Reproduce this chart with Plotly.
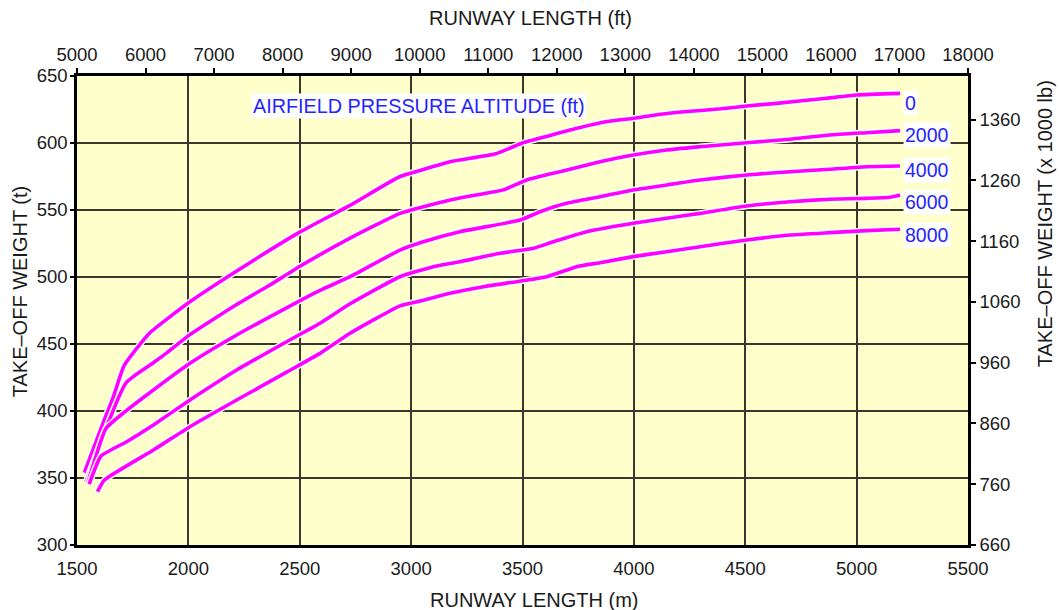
import plotly.graph_objects as go

# ---------------- data ----------------
# runway length (m) / take-off weight (t) for each airfield pressure altitude
alt_labels = ["0", "2000", "4000", "6000", "8000"]

m_0 = [1533, 1617, 1662, 1712, 1825, 2007, 2217, 2500, 2726, 2950, 3050, 3175, 3380,
       3500, 3610, 3745, 3880, 4000, 4120, 4240, 4390, 4506, 4641, 4866, 5000, 5195]
t_0 = [354, 391, 410, 434, 458, 481.5, 504.5, 533.5, 553.5, 575, 580, 586, 592,
       600, 605, 611, 616, 618.5, 621.5, 623.5, 625.5, 627.6, 629.6, 633.4, 635.8, 637]

m_2000 = [1540, 1720, 1843, 1900, 2007, 2217, 2366, 2501, 2726, 2950, 3055, 3219, 3414,
          3519, 3668, 3848, 3997, 4147, 4297, 4506, 4701, 4880, 5045, 5195]
t_2000 = [347, 421, 436, 443, 457, 479.5, 494, 508, 529, 547.5, 552.5, 559, 565,
          572.4, 578.6, 586, 591, 594.8, 597.2, 600.2, 602.8, 606, 607.7, 609.2]

m_4000 = [1548, 1630, 1723, 1843, 2007, 2217, 2441, 2591, 2726, 2950, 3055, 3219, 3489,
          3579, 3698, 3848, 3997, 4147, 4297, 4506, 4701, 4880, 5045, 5195]
t_4000 = [346, 387, 400.5, 415.7, 435.6, 456.7, 477, 490, 500.2, 520.1, 526.3, 533.8, 542.5,
          548.7, 555, 559.9, 564.9, 568.7, 572.4, 576.1, 578.6, 580.4, 582.3, 582.8]

m_6000 = [1555, 1608, 1723, 1843, 2007, 2217, 2441, 2591, 2726, 2950, 3100, 3219, 3399,
          3549, 3638, 3788, 3997, 4147, 4297, 4506, 4701, 4880, 5045, 5150, 5195]
t_6000 = [345.5, 366.4, 377.1, 389.6, 408.2, 430.6, 451.7, 465.5, 480, 500.2, 507.7, 511.4, 517.7,
          521.4, 526.3, 533.8, 540.1, 543.8, 547.5, 553, 556.2, 558, 558.7, 559.5, 561.2]

m_8000 = [1592, 1623, 1843, 2007, 2217, 2441, 2591, 2726, 2950, 3040, 3175, 3324, 3474,
          3609, 3743, 3848, 3997, 4147, 4297, 4506, 4701, 4880, 5045, 5195]
t_8000 = [339.8, 348.5, 370.9, 388.3, 408.2, 429, 443, 458, 478.5, 482, 487.8, 492.8, 496.5,
          500.2, 507.7, 510.7, 515.2, 518.9, 522.6, 527.6, 531.3, 533.1, 534.6, 535.6]

series_m = [m_0, m_2000, m_4000, m_6000, m_8000]
series_t = [t_0, t_2000, t_4000, t_6000, t_8000]

m_ticks = [1500, 2000, 2500, 3000, 3500, 4000, 4500, 5000, 5500]
t_ticks = [300, 350, 400, 450, 500, 550, 600, 650]
ft_ticks = [5000, 6000, 7000, 8000, 9000, 10000, 11000, 12000, 13000, 14000,
            15000, 16000, 17000, 18000]
lb_ticks = [660, 760, 860, 960, 1060, 1160, 1260, 1360]

# ---------------- figure ----------------
FONT = "Liberation Sans, Arial, Helvetica, sans-serif"
MAGENTA = "#ff00ff"
BLUE = "#2424ff"
TXT = "#1a1a1a"

fig = go.Figure()
for m, t in zip(series_m, series_t):
    fig.add_trace(go.Scatter(x=m, y=t, mode="lines",
                             line=dict(color="white", width=6.5, shape="spline", smoothing=0.45),
                             hoverinfo="skip", showlegend=False))
    fig.add_trace(go.Scatter(x=m, y=t, mode="lines",
                             line=dict(color=MAGENTA, width=3.6, shape="spline", smoothing=0.45),
                             showlegend=False))

# invisible trace to carry the secondary (ft / lb) axes
fig.add_trace(go.Scatter(x=[ft_ticks[0], ft_ticks[-1]], y=[lb_ticks[0], lb_ticks[-1]],
                         xaxis="x2", yaxis="y2", mode="markers",
                         marker=dict(opacity=0), hoverinfo="skip", showlegend=False))

# curve labels
label_shift = [-10, -4, -4, -7, -6]
for lab, m, t, ys in zip(alt_labels, series_m, series_t, label_shift):
    fig.add_annotation(x=m[-1], y=t[-1], xref="x", yref="y", text=lab,
                       showarrow=False, xanchor="left", yanchor="middle",
                       xshift=3, yshift=ys, bgcolor="white", borderpad=1,
                       font=dict(family=FONT, size=19.5, color=BLUE))

fig.add_annotation(x=3035, y=627.6, xref="x", yref="y",
                   text="AIRFIELD PRESSURE ALTITUDE (ft)", showarrow=False,
                   xanchor="center", yanchor="middle", bgcolor="white", borderpad=1,
                   font=dict(family=FONT, size=19.8, color=BLUE))

# axis titles
title_font = dict(family=FONT, size=20, color=TXT)
fig.add_annotation(x=0.509, y=1.1237, xref="paper", yref="paper",
                   text="RUNWAY LENGTH (ft)", showarrow=False,
                   xanchor="center", yanchor="middle", font=title_font)
fig.add_annotation(x=0.514, y=-0.117, xref="paper", yref="paper",
                   text="RUNWAY LENGTH (m)", showarrow=False,
                   xanchor="center", yanchor="middle", font=title_font)
fig.add_annotation(x=-0.0645, y=0.54, xref="paper", yref="paper",
                   text="TAKE\u2013OFF WEIGHT (t)", showarrow=False, textangle=-90,
                   xanchor="center", yanchor="middle", font=title_font)
fig.add_annotation(x=1.0864, y=0.686, xref="paper", yref="paper",
                   text="TAKE\u2013OFF WEIGHT (x 1000 lb)", showarrow=False, textangle=-90,
                   xanchor="center", yanchor="middle", font=title_font)

tick_font = dict(family=FONT, size=18.5, color=TXT)
GRID = "#38382e"

fig.update_layout(
    width=1059, height=610,
    margin=dict(l=77, r=91, t=76, b=65, pad=0),
    paper_bgcolor="white",
    plot_bgcolor="#ffffcc",
    font=dict(family=FONT, size=18.5, color=TXT),
    xaxis=dict(range=[1500, 5500], tickvals=m_ticks, ticktext=[str(v) for v in m_ticks],
               showgrid=True, gridcolor=GRID, gridwidth=1.6, zeroline=False,
               showline=True, linecolor="black", linewidth=2.5,
               ticks="", tickfont=tick_font, ticklabelstandoff=5),
    yaxis=dict(range=[300, 650], tickvals=t_ticks, ticktext=[str(v) for v in t_ticks],
               showgrid=True, gridcolor=GRID, gridwidth=1.6, zeroline=False,
               showline=True, linecolor="black", linewidth=2.5,
               ticks="outside", ticklen=4, tickcolor="black", tickwidth=1.5,
               tickfont=tick_font, ticklabelstandoff=-1),
    xaxis2=dict(range=[5000, 18000], tickvals=ft_ticks, ticktext=[str(v) for v in ft_ticks],
                overlaying="x", side="top",
                anchor="y", showgrid=False, zeroline=False,
                showline=True, linecolor="black", linewidth=2.5,
                ticks="outside", ticklen=5, tickcolor="black", tickwidth=1.5,
                tickfont=tick_font),
    yaxis2=dict(range=[660, 1431.6], tickvals=lb_ticks, ticktext=[str(v) for v in lb_ticks],
                overlaying="y", side="right",
                anchor="x", showgrid=False, zeroline=False,
                showline=True, linecolor="black", linewidth=2.5,
                ticks="outside", ticklen=5, tickcolor="black", tickwidth=1.5,
                tickfont=tick_font),
)

fig.write_html("out.html", config={"displayModeBar": False},
               post_script="document.body.style.margin='0';document.body.style.overflow='hidden';")
